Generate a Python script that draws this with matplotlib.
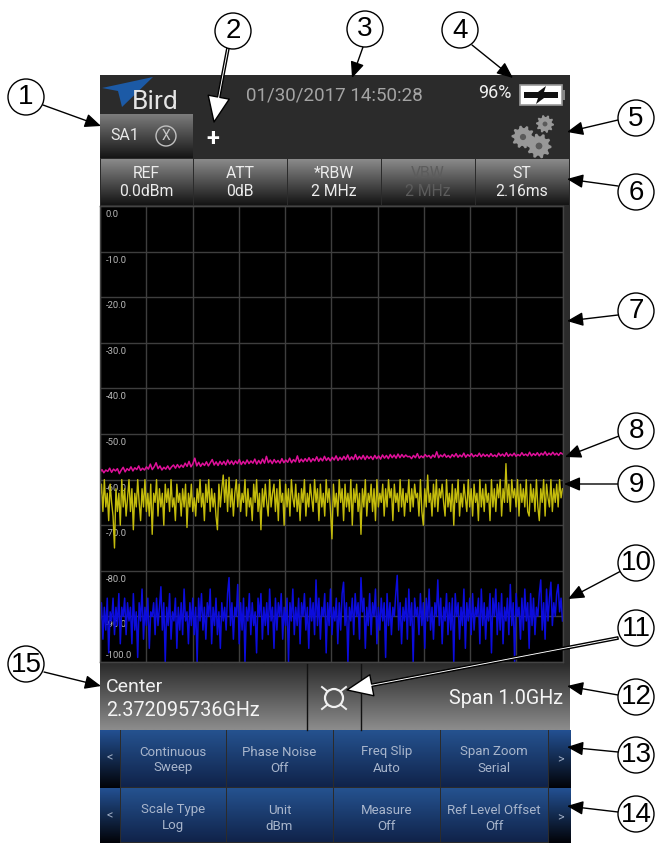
import numpy as np
import matplotlib
matplotlib.use("Agg")
import matplotlib.pyplot as plt
from matplotlib.patches import Circle, Polygon, Rectangle, FancyArrowPatch
from matplotlib.transforms import ScaledTranslation

plt.rcParams['font.family'] = ['Roboto', 'DejaVu Sans']

W, H = 656, 843
F_LO, F_HI = 1.872095736, 2.872095736
Y_TICKS = [0, -10, -20, -30, -40, -50, -60, -70, -80, -90, -100]
Y_LABELS = ["0.0", "-10.0", "-20.0", "-30.0", "-40.0", "-50.0", "-60.0", "-70.0", "-80.0", "-90.0", "-100.0"]

magenta_trace = [
 -58.4,-57.8,-58.5,-57.9,-58.2,-57.5,-58.4,-57.7,-58.1,-57.6,-58.7,-57.9,-57.3,-58.3,-57.6,-58.0,-57.2,-58.1,-57.4,-57.8,
 -57.0,-58.0,-57.5,-57.9,-57.2,-57.7,-56.6,-57.8,-57.2,-56.3,-57.6,-57.0,-57.9,-57.3,-57.7,-57.0,-57.8,-57.2,-56.8,-57.5,
 -56.7,-57.4,-56.8,-57.3,-56.4,-57.1,-56.0,-57.2,-56.5,-55.3,-57.0,-56.2,-57.1,-56.4,-56.9,-56.1,-57.0,-56.3,-55.6,-56.8,
 -56.1,-56.9,-56.0,-56.7,-56.0,-56.8,-55.7,-56.6,-55.9,-56.7,-55.9,-56.5,-55.6,-56.7,-56.0,-56.6,-55.7,-56.5,-55.9,-56.4,
 -55.5,-56.6,-55.8,-56.5,-55.5,-56.4,-54.9,-56.3,-55.7,-56.5,-55.6,-56.3,-55.8,-56.4,-55.4,-56.3,-55.7,-56.2,-55.3,-56.3,
 -55.6,-56.1,-54.8,-56.2,-55.5,-56.1,-55.4,-56.0,-55.2,-56.1,-55.4,-55.9,-55.0,-56.0,-55.3,-55.9,-54.9,-55.8,-55.2,-55.9,
 -55.1,-55.7,-54.8,-55.8,-55.1,-55.7,-54.9,-55.6,-54.6,-55.7,-55.0,-55.6,-54.5,-55.6,-54.9,-55.5,-54.7,-55.6,-54.8,-55.4,
 -54.9,-55.6,-54.7,-55.4,-54.8,-55.5,-54.6,-55.3,-54.7,-55.4,-54.5,-55.2,-54.6,-55.3,-54.4,-55.2,-54.5,-55.1,-54.6,-55.0,
 -54.9,-55.4,-54.7,-55.2,-54.3,-55.3,-54.8,-55.2,-54.5,-55.0,-54.7,-55.3,-54.6,-55.1,-53.9,-55.2,-54.6,-55.0,-54.4,-55.1,
 -54.7,-55.2,-54.5,-55.0,-54.3,-55.1,-54.6,-55.0,-54.2,-55.1,-54.5,-54.9,-54.3,-55.0,-54.6,-54.9,-54.2,-55.0,-54.4,-54.9,
 -54.5,-55.0,-54.3,-54.9,-54.6,-55.0,-54.2,-54.8,-54.4,-54.9,-54.1,-54.9,-54.4,-54.8,-54.2,-54.9,-54.5,-54.8,-54.1,-54.7,
 -54.4,-54.8,-54.0,-54.8,-54.3,-54.7,-54.1,-54.8,-54.2,-54.6,-53.9,-54.7,-54.2,-54.6,-54.0,-54.6,-54.2,-54.7,-54.1,-54.4,
]

yellow_trace = [
 -64,-61,-67,-60,-66,-63,-69,-61,-65,-68,-75,-62,-67,-63,-70,-60,-66,-62,-68,-64,
 -60,-67,-62,-71,-63,-66,-60,-65,-69,-62,-66,-60,-67,-63,-68,-61,-72,-63,-65,-60,
 -68,-62,-66,-63,-70,-61,-65,-62,-67,-60,-66,-64,-69,-61,-65,-63,-68,-62,-66,-61,
 -70.5,-63,-66,-61,-67,-64,-68,-62,-65,-60,-66,-63,-69,-61,-65,-60,-67,-62,-66,-63,
 -68,-71,-61,-66,-62,-59,-65,-60,-67,-59.5,-66,-62,-68,-63,-60,-66,-61,-67,-63,-65,
 -60,-68,-62,-66,-64,-69,-61,-65,-60,-67,-63,-71,-62,-66,-61,-65,-68,-60,-66,-63,
 -61,-67,-62,-69,-60,-65,-63,-70,-61,-66,-62,-68,-60,-64,-66,-61,-67,-63,-69,-62,
 -65,-60,-68,-63,-66,-61,-64,-67,-60,-65,-62,-69,-61,-66,-63,-68,-60,-65,-62,-67,
 -73,-61,-66,-63,-68,-60,-65,-62,-69,-61,-66,-63,-67,-60,-70,-62,-65,-61,-67,-63,
 -72,-62,-66,-60,-68,-63,-65,-61,-67,-62,-69,-60,-66,-63,-65,-61,-68,-62,-66,-60,
 -64,-62,-69,-61,-65,-63,-67,-60,-66,-62,-68,-63,-65,-60,-67,-62,-66,-61,-64,-63,
 -68,-60,-67,-70,-62,-66,-59,-65,-63,-68,-61,-66,-60,-67,-62,-64,-61,-65,-68,-60,
 -66,-63,-67,-61,-70,-62,-65,-60,-68,-63,-66,-61,-64,-67,-60,-66,-62,-68,-61,-65,
 -63,-69,-60,-66,-62,-67,-61,-65,-63,-69,-60,-66,-62,-67,-61,-64,-60,-68,-62,-65,
 -56.5,-65,-61,-67,-60,-64,-62,-66,-60,-68,-61,-65,-62,-66,-60,-67,-68,-61,-65,-62,
 -67,-60,-66,-69,-62,-65,-60,-68,-61,-64,-66,-60,-67,-62,-65,-61,-66,-60,-64,-62,
]

blue_trace = [
 -92,-87,-95,-88,-93,-86,-98,-89,-91,-86,-94,-88,-92,-85,-96,-88,-90,-86,-94,-87,
 -91,-88,-96,-85,-93,-89,-99,-87,-91,-84,-95,-88,-92,-86,-97,-89,-90,-87,-94,-86,
 -92,-88,-83.5,-93,-87,-100,-88,-92,-85,-95,-89,-91,-86,-97,-88,-93,-87,-94,-84,-91,
 -89,-96,-87,-92,-86,-94,-88,-100,-86,-91,-85,-93,-88,-95,-87,-90,-84,-96,-88,-92,
 -86,-94,-89,-97,-87,-91,-88,-93,-85,-81.5,-92,-87,-95,-88,-90,-83,-96,-87,-93,-86,
 -100,-88,-91,-85,-94,-87,-92,-89,-98,-86,-90,-85,-95,-88,-92,-87,-94,-84,-91,-88,
 -97,-86,-93,-87,-90,-85,-95,-88,-92,-86,-100,-87,-91,-84,-94,-88,-92,-86,-96,-87,
 -90,-85,-93,-88,-97,-86,-91,-87,-94,-82,-92,-86,-95,-88,-90,-85,-98,-87,-92,-84,
 -94,-88,-91,-86,-96,-87,-93,-85,-82.5,-92,-87,-100,-88,-91,-86,-94,-85,-90,-87,-95,
 -81.5,-89,-86,-97,-88,-92,-85,-94,-87,-90,-84,-96,-88,-93,-86,-91,-87,-99,-85,-92,
 -87,-94,-88,-90,-85,-81,-93,-87,-96,-88,-91,-86,-95,-84,-92,-87,-100,-86,-90,-88,
 -94,-85,-92,-87,-97,-86,-91,-84,-93,-88,-95,-87,-90,-82,-92,-86,-96,-88,-91,-85,
 -94,-87,-93,-86,-100,-85,-90,-87,-95,-88,-92,-84,-97,-87,-91,-86,-94,-85,-93,-88,
 -90,-86,-96,-84,-92,-87,-95,-88,-91,-85,-98,-86,-90,-84,-94,-87,-93,-85,-96,-88,
 -91,-86,-94,-83,-92,-87,-100,-85,-90,-88,-95,-86,-93,-84,-91,-87,-97,-85,-92,-86,
 -94,-88,-90,-85,-82,-93,-87,-95,-84,-91,-86,-82.5,-92,-87,-90,-85,-83,-89,-86,-91,
]

fig = plt.figure(figsize=(W / 100, H / 100), dpi=100, facecolor='white')


def px_axes(l, t, r, b, z):
    return fig.add_axes([l / W, 1 - b / H, (r - l) / W, (b - t) / H], zorder=z)


ui = px_axes(0, 0, W, H, 0)
ui.set_axis_off()
ui.set_xlim(0, W)
ui.set_ylim(H, 0)


def hexrgb(c):
    return np.array(matplotlib.colors.to_rgb(c))


def grad(x0, y0, x1, y1, top, bottom):
    t = np.linspace(0, 1, 64)[:, None]
    a, b = hexrgb(top), hexrgb(bottom)
    img = (a * (1 - t) + b * t)[:, None, :]
    ui.imshow(img, extent=(x0, x1, y1, y0), aspect='auto', interpolation='bilinear', zorder=1)


def txt(a, x, y, s, size, color='#e8e8e8', ha='center', va='center', **kw):
    a.text(x, y, s, fontsize=size, color=color, ha=ha, va=va, zorder=5, **kw)


ui.add_patch(Rectangle((100, 75), 470, 768, fc='#2b2b2b', ec='none', zorder=0.5))

# header
ui.add_patch(Polygon([(102, 88), (153, 77), (122, 107), (118, 91)], fc='#1c5aa6', ec='none', zorder=3))
txt(ui, 132, 102, "Bird", 19, '#e4e4e4', ha='left')
txt(ui, 334, 95, "01/30/2017 14:50:28", 13.5, '#a4a4a4')
txt(ui, 495, 93, "96%", 13, '#f0f0f0')
ui.add_patch(Rectangle((520, 85), 42, 20, fc='white', ec='#999999', lw=1.2, zorder=3))
ui.add_patch(Rectangle((562, 90), 3, 10, fc='#888888', ec='none', zorder=3))
ui.add_patch(Polygon([(524, 92), (538, 92), (546, 86), (544, 92), (558, 92), (558, 98), (544, 98), (536, 104), (538, 98), (524, 98)],
                     fc='#111111', ec='none', zorder=4))
grad(100, 114, 193, 158, '#7c7c7c', '#151515')
txt(ui, 125, 136, "SA1", 11.5)
ui.add_patch(Circle((166, 136), 10, fc='none', ec='#c0c0c0', lw=1, zorder=4))
txt(ui, 166, 136, "X", 10, '#c8c8c8')
txt(ui, 213, 139, "+", 17, 'white', fontweight='bold')


def gear(cx, cy, r, teeth=10):
    n = teeth * 4
    ang = np.linspace(0, 2 * np.pi, n, endpoint=False)
    rad = np.where(np.arange(n) % 4 < 2, r, r * 0.78)
    pts = np.c_[cx + rad * np.cos(ang), cy + rad * np.sin(ang)]
    ui.add_patch(Polygon(pts, fc='#989898', ec='none', zorder=3))
    ui.add_patch(Circle((cx, cy), r * 0.27, fc='#5a5a5a', ec='none', zorder=4))


gear(523, 137, 11.5)
gear(545, 124, 9)
gear(539, 146, 12.5)

# top buttons
btn_edges = [100, 193, 287, 381, 475, 569]
btn_top = ["REF", "ATT", "*RBW", "VBW", "ST"]
btn_bot = ["0.0dBm", "0dB", "2 MHz", "2 MHz", "2.16ms"]
for i in range(5):
    grad(btn_edges[i] + .5, 159, btn_edges[i + 1] - .5, 205, '#8a8a8a', '#141414')
    col = '#5c5c5c' if btn_top[i] == 'VBW' else '#ececec'
    txt(ui, (btn_edges[i] + btn_edges[i + 1]) / 2, 174, btn_top[i], 11.3, col)
    txt(ui, (btn_edges[i] + btn_edges[i + 1]) / 2, 192, btn_bot[i], 11.3, col)

# centre/span bar
grad(100, 664, 570, 730, '#2c2c2c', '#8c8c8c')
for xs in (307, 361):
    ui.plot([xs, xs], [664, 730], color='#111111', lw=1, zorder=3)
txt(ui, 106, 687, "Center", 14, '#f0f0f0', ha='left')
txt(ui, 106, 710, "2.372095736GHz", 14.2, '#f4f4f4', ha='left')
txt(ui, 563, 698, "Span 1.0GHz", 14.2, '#f4f4f4', ha='right')
ui.add_patch(Circle((334, 698), 9, fc='none', ec='#f0f0f0', lw=1.6, zorder=4))
for dx, dy in ((-1, -1), (1, -1), (-1, 1), (1, 1)):
    ui.plot([334 + 7 * dx, 334 + 12 * dx], [698 + 7 * dy, 698 + 11 * dy], color='#f0f0f0', lw=1.4, zorder=4)

# blue soft keys
col_edges = [100, 120, 226, 333, 440, 548, 570]
rows = [(730, 788, [("Continuous", "Sweep"), ("Phase Noise", "Off"), ("Freq Slip", "Auto"), ("Span Zoom", "Serial")]),
        (788, 843, [("Scale Type", "Log"), ("Unit", "dBm"), ("Measure", "Off"), ("Ref Level Offset", "Off")])]
for y0, y1, labels in rows:
    grad(100, y0, 119.5, y1, '#235092', '#020308')
    grad(548.5, y0, 570, y1, '#235092', '#020308')
    txt(ui, 110, y0 + 28, "<", 9, '#9aa8c0')
    txt(ui, 560, y0 + 30, ">", 9, '#9aa8c0')
    for i, (a, b) in enumerate(labels):
        x0, x1 = col_edges[i + 1], col_edges[i + 2]
        grad(x0 + .5, y0 + .5, x1 - .5, y1 - .5, '#25528f', '#10234a')
        txt(ui, (x0 + x1) / 2, y0 + 22, a, 9.5, '#a9b6cc')
        txt(ui, (x0 + x1) / 2, y0 + 38, b, 9.5, '#a9b6cc')
ui.set_xlim(0, W)
ui.set_ylim(H, 0)

# spectrum plot
ax = px_axes(100, 206, 562.5, 662, 1)
ax.set_facecolor('black')
ax.set_xlim(F_LO, F_HI)
ax.set_ylim(-100, 0)
ax.set_xticks(np.linspace(F_LO, F_HI, 11))
ax.set_yticks(Y_TICKS)
ax.set_yticklabels(Y_LABELS)
ax.set_axisbelow(True)
ax.grid(True, color='#3e3e3e', lw=1)
ax.tick_params(axis='x', length=0, labelbottom=False)
ax.tick_params(axis='y', length=0, pad=-4, labelsize=6.8, labelcolor='#b8b8b8')
for lab, v in zip(ax.get_yticklabels(), Y_TICKS):
    lab.set_ha('left')
    if v == -100:
        lab.set_va('bottom')
        shift = 0.02
    else:
        lab.set_va('top')
        shift = -0.04
    lab.set_transform(lab.get_transform() + ScaledTranslation(0, shift, fig.dpi_scale_trans))
for sp in ax.spines.values():
    sp.set_color('#444444')
    sp.set_linewidth(1)
for vals, col, lw in ((magenta_trace, '#e0109a', 1.1), (yellow_trace, '#c4bc0c', 1.0), (blue_trace, '#0c0cdc', 1.1)):
    ax.plot(np.linspace(F_LO, F_HI, len(vals)), vals, color=col, lw=lw, clip_on=True)

# callouts
top = px_axes(0, 0, W, H, 2)
top.set_axis_off()
top.patch.set_alpha(0)
top.set_xlim(0, W)
top.set_ylim(H, 0)
callouts = [("1", 26, 97), ("2", 233, 31), ("3", 365, 29), ("4", 460, 30), ("5", 636, 118),
            ("6", 636, 192), ("7", 636, 311), ("8", 636, 431), ("9", 636, 484), ("10", 636, 563),
            ("11", 636, 628), ("12", 636, 697), ("13", 636, 755), ("14", 636, 814), ("15", 26, 664)]
for s, x, y in callouts:
    top.add_patch(Circle((x, y), 18, fc='white', ec='black', lw=1, zorder=4))
    top.text(x, y + 0.5, s, fontsize=20, family=['Liberation Sans'], color='black', ha='center', va='center', zorder=5)

solid = [((43, 105), (101, 126)), ((363, 47), (352, 78)), ((472, 45), (513, 78)), ((618, 120), (567, 132)),
         ((618, 186), (567, 179)), ((618, 315), (567, 321)), ((619, 436), (565, 457)), ((618, 484), (564, 484)),
         ((621, 571), (568, 599)), ((618, 695), (567, 686)), ((618, 752), (567, 747)), ((618, 812), (567, 806)),
         ((44, 672), (101, 686))]
for a, b in solid:
    top.add_patch(FancyArrowPatch(a, b, arrowstyle='-|>,head_length=0.7,head_width=0.3', mutation_scale=14,
                                  color='black', lw=1, shrinkA=0, shrinkB=0, zorder=3))
hollow = [((228, 48), (214, 122)), ((618, 638), (347, 690))]
for a, b in hollow:
    top.add_patch(FancyArrowPatch(a, b, arrowstyle='simple,head_length=1.3,head_width=1.1,tail_width=0.12',
                                  mutation_scale=14, fc='white', ec='black', lw=1, shrinkA=0, shrinkB=0, zorder=3))

fig.savefig('out.png', dpi=100, facecolor='white')
